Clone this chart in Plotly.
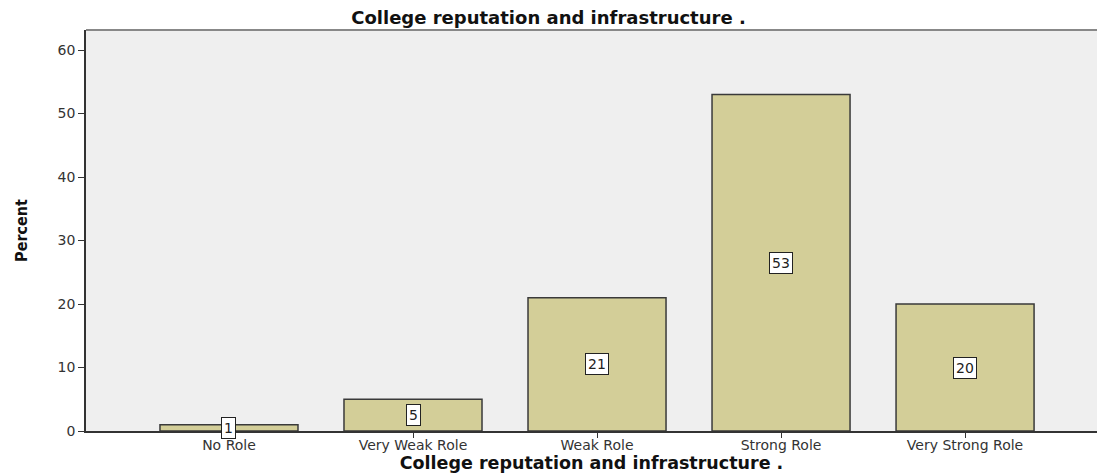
import plotly.graph_objects as go

categories = ["No Role", "Very Weak Role", "Weak Role", "Strong Role", "Very Strong Role"]
percent = [1, 5, 21, 53, 20]
value_labels = ["1", "5", "21", "53", "20"]
title_text = "College reputation and infrastructure ."
y_ticks = [0, 10, 20, 30, 40, 50, 60]

xpos = list(range(len(categories)))
WIDE = "DejaVu Sans, Verdana, sans-serif"

fig = go.Figure()
fig.add_trace(go.Bar(
    x=xpos, y=percent, width=0.75,
    marker=dict(color="#D3CE98", line=dict(color="#3a3a3a", width=1.5)),
    hoverinfo="skip",
))

for xi, v, t in zip(xpos, percent, value_labels):
    fig.add_annotation(
        x=xi, y=v / 2, text=t, showarrow=False,
        bgcolor="white", bordercolor="#222222", borderwidth=1, borderpad=2,
        font=dict(family=WIDE, size=14, color="#222222"),
    )

fig.update_layout(
    width=1097, height=476,
    margin=dict(l=86, r=0, t=30, b=45),
    paper_bgcolor="white", plot_bgcolor="#EFEFEF",
    showlegend=False,
    title=dict(text="<b>" + title_text + "</b>", x=0.5, xanchor="center", y=0.962, yanchor="middle",
               font=dict(family=WIDE, size=18, color="#111111")),
    xaxis=dict(
        range=[-0.777, 4.717], tickmode="array", tickvals=xpos, ticktext=categories,
        showline=True, linecolor="#333333", linewidth=1.5,
        ticks="outside", ticklen=5, tickcolor="#333333",
        ticklabelstandoff=-5,
        showgrid=False, zeroline=False,
        tickfont=dict(family=WIDE, size=14, color="#333333"),
        title=dict(text="<b>" + title_text + "</b>", standoff=5,
                   font=dict(family=WIDE, size=17.5, color="#111111")),
    ),
    yaxis=dict(
        range=[0, 63.15], tickmode="array", tickvals=y_ticks,
        showline=True, linecolor="#333333", linewidth=1.5,
        ticks="outside", ticklen=6, tickcolor="#333333",
        showgrid=False, zeroline=False,
        tickfont=dict(family=WIDE, size=14, color="#333333"),
        title=dict(text="<b>Percent</b>", standoff=26,
                   font=dict(family="DejaVu Sans Condensed, Liberation Sans Narrow, Arial", size=16, color="#111111")),
    ),
    shapes=[dict(type="line", xref="paper", yref="paper", x0=0, x1=1, y0=1, y1=1,
                 line=dict(color="#888888", width=2))],
)

fig.write_html("out.html")
